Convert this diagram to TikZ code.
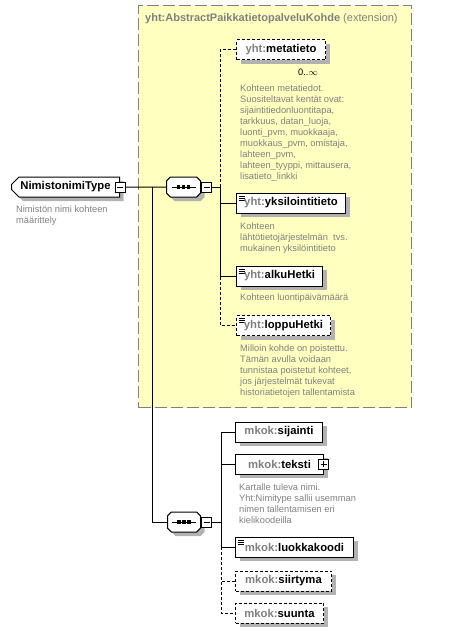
\documentclass[tikz,border=0pt]{standalone}
\usepackage{fontspec}
\setmainfont{Liberation Sans}
\usetikzlibrary{shapes.misc}
\usetikzlibrary{shadows}
\definecolor{extyellow}{RGB}{255,255,192}
\definecolor{docgray}{RGB}{128,128,128}
\definecolor{shadegray}{RGB}{178,178,178}
\newcommand{\nsp}[1]{\textcolor{docgray}{#1:}}
\tikzset{%
    elem/.style={draw=black,fill=white,line width=1pt,inner sep=0pt,anchor=west,minimum height=20pt,
        font=\fontsize{11.3}{13}\selectfont\bfseries,
        general shadow={fill=shadegray,shadow xshift=4pt,shadow yshift=-4pt}},
    optelem/.style={elem,dash pattern=on 3pt off 2pt},
    simple/.style={path picture={\foreach \k in {3,5,7}
        \draw[solid,line width=0.9pt] ([xshift=2pt,yshift=-\k pt]path picture bounding box.north west) -- ++(6pt,0);}},
    doc/.style={anchor=north west,inner sep=0pt,align=left,text=docgray,font=\fontsize{9.3}{11}\selectfont}
}
\begin{document}
\begin{tikzpicture}[x=1pt,y=-1pt,
        conn/.style={line width=1pt},
        optconn/.style={line width=1pt,dash pattern=on 3pt off 2pt},
        elbow/.style={to path={|- (\tikztotarget)}},
        extbox/.style={draw=docgray,fill=extyellow,line width=1pt,dash pattern=on 12pt off 4pt,inner sep=0pt,anchor=north west},
        ctype/.style={elem,chamfered rectangle,chamfered rectangle corners={north west,south west},chamfered rectangle xsep=4pt},
        seqbox/.style={chamfered rectangle,chamfered rectangle xsep=6pt,draw=black,fill=white,line width=1pt,inner sep=0pt,
            anchor=west,minimum height=20pt,font=\fontsize{11.3}{13}\selectfont,
            general shadow={fill=shadegray,shadow xshift=4pt,shadow yshift=-4pt},
            path picture={\draw[black,line width=1pt] ([xshift=-12pt]path picture bounding box.center) -- ([xshift=12pt]path picture bounding box.center);
                \foreach \d in {-5,0,5}
                    \fill[black] ([xshift=\d pt]path picture bounding box.center) +(-1.6pt,-1.6pt) rectangle +(1.6pt,1.6pt);}},
        togglebox/.style={draw=black,fill=white,line width=1pt,inner sep=0pt,minimum size=10pt},
        minus/.style={togglebox,path picture={\draw[line width=1pt] ([xshift=2pt]path picture bounding box.west) -- ([xshift=-2pt]path picture bounding box.east);}},
        plus/.style={togglebox,path picture={\draw[line width=1pt] ([xshift=2pt]path picture bounding box.west) -- ([xshift=-2pt]path picture bounding box.east);
            \draw[line width=1pt] ([yshift=-2pt]path picture bounding box.north) -- ([yshift=2pt]path picture bounding box.south);}},
        mult/.style={inner sep=0pt,font=\fontsize{9.3}{11}\selectfont}]
        \useasboundingbox (0,0) rectangle (454,633);

        \node[extbox,minimum width=273pt,minimum height=402pt] (ext) at (138,5){};
        \node[anchor=west,inner sep=0pt,text=docgray,font=\fontsize{11}{13}\selectfont] (extTitle) at (145,19){\textbf{yht:AbstractPaikkatietopalveluKohde} (extension)};

        \node[ctype,minimum width=108pt] (main) at (11,187){NimistonimiType};
        \node[minus] (mainMinus) at (main.east){};
        \node[doc] (mainDoc) at (16,205.5){Nimistön nimi kohteen\\määrittely};

        \node[seqbox,minimum width=34pt] (seqA) at (166,187){\vphantom{X}\hspace{20pt}};
        \node[minus,anchor=west] (seqAMinus) at (seqA.east){};
        \node[seqbox,minimum width=33pt] (seqB) at (167,522){\vphantom{X}\hspace{20pt}};
        \node[minus,anchor=west] (seqBMinus) at (seqB.east){};

        \node[optelem,minimum width=89pt] (meta) at (236,49.5){\nsp{yht}metatieto};
        \node[mult] (metaMult) at (308,72){0..$\infty$};
        \node[doc] (metaDoc) at (240,84.5){Kohteen metatiedot.\\Suositeltavat kentät ovat:\\sijaintitiedonluontitapa,\\tarkkuus, datan\_luoja,\\luonti\_pvm, muokkaaja,\\muokkaus\_pvm, omistaja,\\lahteen\_pvm,\\lahteen\_tyyppi, mittausera,\\lisatieto\_linkki};
        \node[elem,simple,minimum width=109pt] (yks) at (236,203){\nsp{yht}yksilointitieto};
        \node[doc] (yksDoc) at (240,222.5){Kohteen\\lähtötietojärjestelmän\ \ tvs.\\mukainen yksilöintitieto};
        \node[elem,simple,minimum width=86pt] (alku) at (236,276){\nsp{yht}alkuHetki};
        \node[doc] (alkuDoc) at (240,293.5){Kohteen luontipäivämäärä};
        \node[optelem,simple,minimum width=94pt] (loppu) at (236,325.5){\nsp{yht}loppuHetki};
        \node[doc] (loppuDoc) at (240,344.5){Milloin kohde on poistettu.\\Tämän avulla voidaan\\tunnistaa poistetut kohteet,\\jos järjestelmät tukevat\\historiatietojen tallentamista};

        \node[elem,minimum width=87pt] (sij) at (235,432){\nsp{mkok}sijainti};
        \node[elem,minimum width=88pt] (teks) at (235,464){\nsp{mkok}teksti\hspace{8pt}};
        \node[plus] (teksPlus) at ([xshift=-0.5pt]teks.east){};
        \node[doc] (teksDoc) at (239,483.5){Kartalle tuleva nimi.\\Yht:Nimitype sallii usemman\\nimen tallentamisen eri\\kielikoodeilla};
        \node[elem,simple,minimum width=118pt] (luok) at (235,547){\nsp{mkok}luokkakoodi};
        \node[optelem,minimum width=96pt] (siirt) at (235,581){\nsp{mkok}siirtyma};
        \node[optelem,minimum width=88pt] (suunta) at (235,613){\nsp{mkok}suunta};

        \coordinate (jM) at (152,187);
        \coordinate (jA) at (220,187);
        \coordinate (jB) at (221,522);

        \path[]
            (mainMinus) edge[conn] (seqA)
            (jM) edge[conn,elbow] (seqB)
            (seqAMinus) edge[conn] (jA)
            (seqBMinus) edge[conn] (jB)
            (jA) edge[optconn,elbow] (meta)
            (jA) edge[optconn,elbow] (loppu)
            (jA) edge[conn,elbow] (yks)
            (jA) edge[conn,elbow] (alku)
            (jB) edge[optconn,elbow] (siirt)
            (jB) edge[optconn,elbow] (suunta)
            (jB) edge[conn,elbow] (sij)
            (jB) edge[conn,elbow] (teks)
            (jB) edge[conn,elbow] (luok);
    \end{tikzpicture}
\end{document}
